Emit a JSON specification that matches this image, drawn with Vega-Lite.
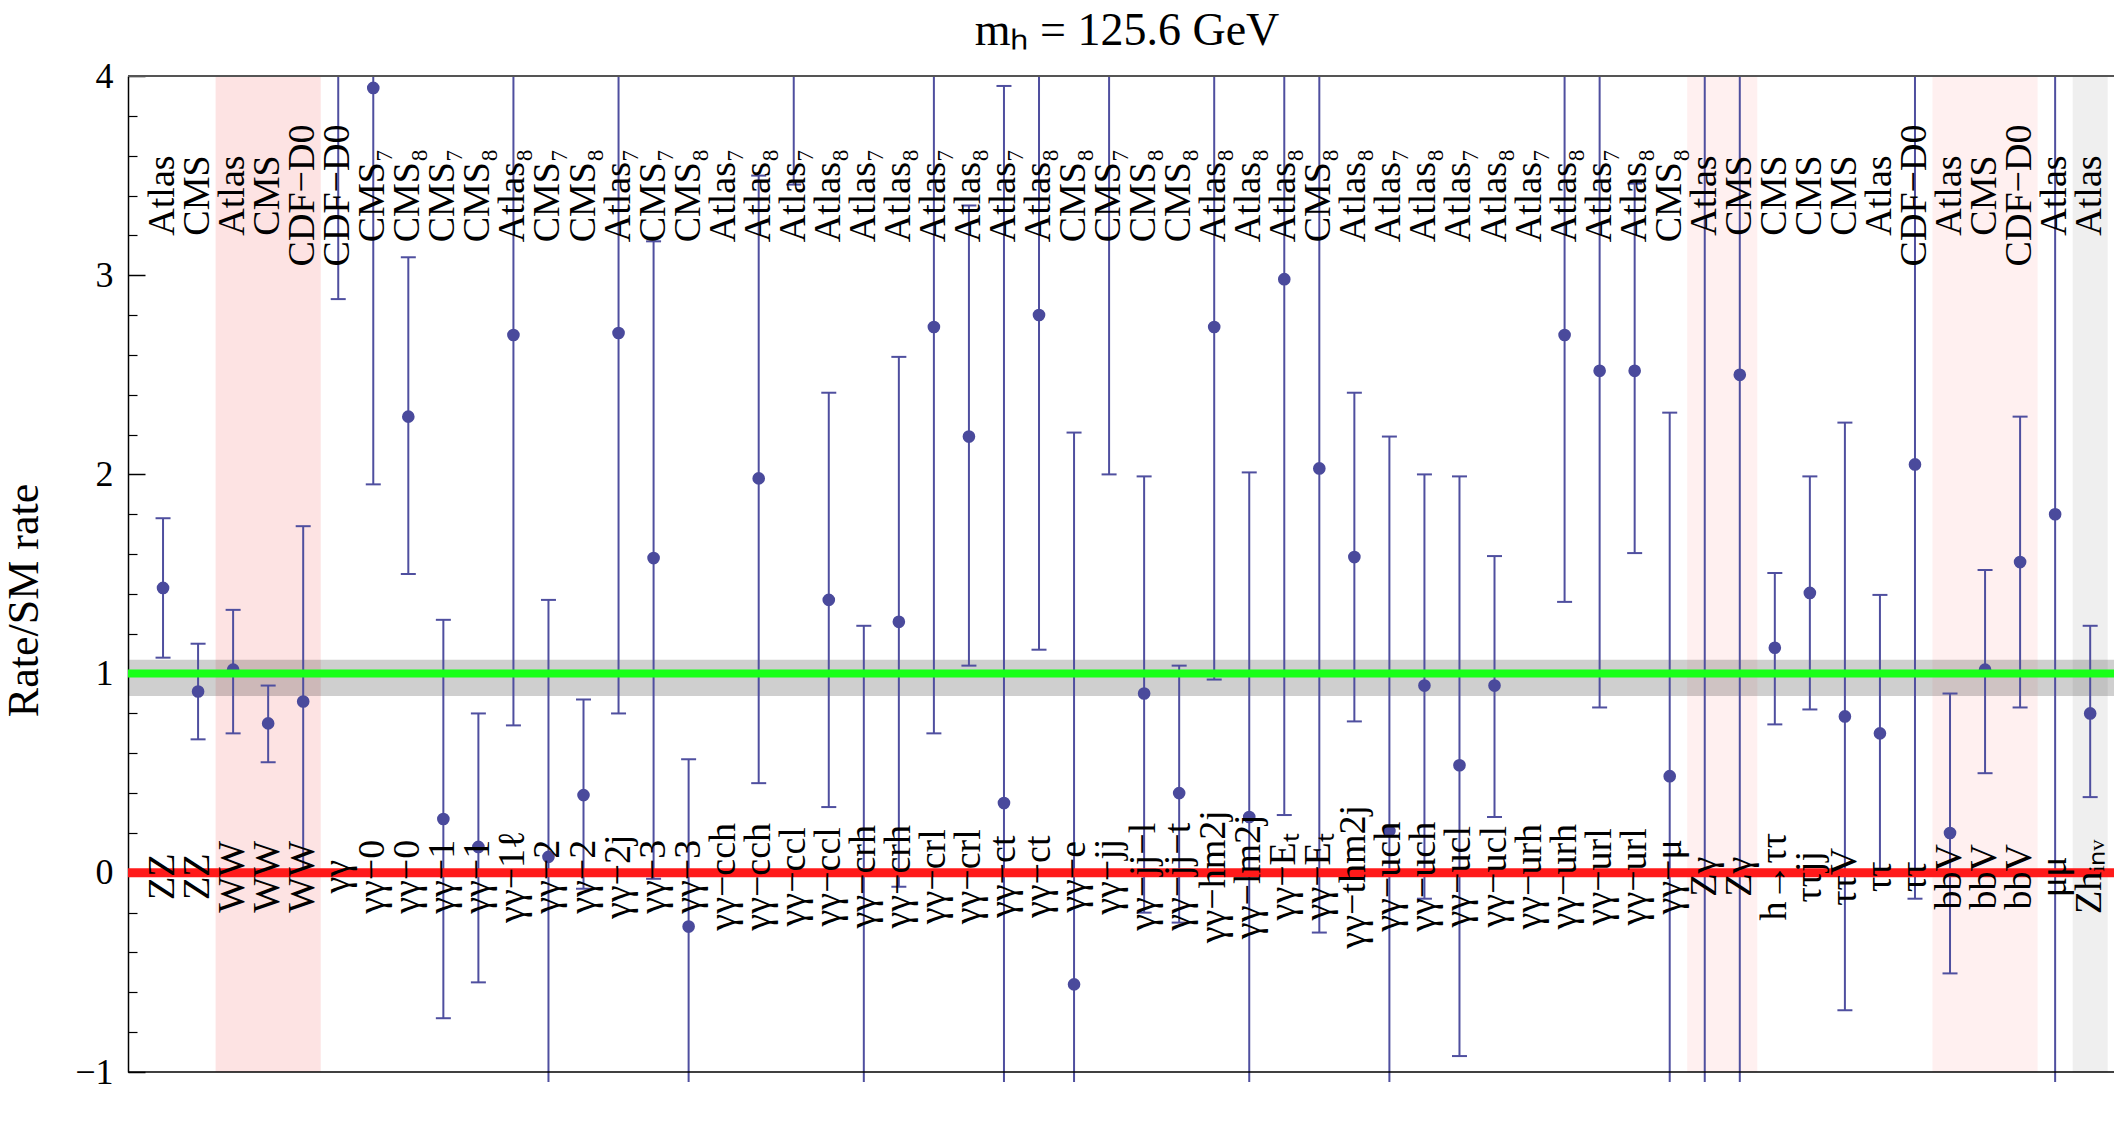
{
  "$schema": "https://vega.github.io/schema/vega-lite/v6.json",
  "width": 1986,
  "height": 996,
  "autosize": {"type": "none"},
  "padding": {"left": 128, "top": 76, "right": 0, "bottom": 61},
  "background": "white",
  "view": {"stroke": null},
  "config": {"font": "Liberation Serif"},
  "title": {"text": "mₕ = 125.6 GeV", "font": "Liberation Serif", "fontSize": 46, "fontWeight": "normal", "color": "black", "frame": "group", "offset": 22, "dy": 19, "dx": 6},
  "resolve": {"axis": {"y": "independent"}},
  "datasets": {
    "pts": [
      {"c": 1, "top": "Atlas", "bot": "ZZ", "v": 1.43, "lo": 1.08, "hi": 1.78},
      {"c": 2, "top": "CMS", "bot": "ZZ", "v": 0.91, "lo": 0.67, "hi": 1.15},
      {"c": 3, "top": "Atlas", "bot": "WW", "v": 1.02, "lo": 0.70, "hi": 1.32},
      {"c": 4, "top": "CMS", "bot": "WW", "v": 0.75, "lo": 0.555, "hi": 0.94},
      {"c": 5, "top": "CDF−D0", "bot": "WW", "v": 0.86, "lo": 0.0, "hi": 1.74},
      {"c": 6, "top": "CDF−D0", "bot": "γγ", "v": null, "lo": 2.88, "hi": 4},
      {"c": 7, "top": "CMS₇", "bot": "γγ−0", "v": 3.94, "lo": 1.95, "hi": 4},
      {"c": 8, "top": "CMS₈", "bot": "γγ−0", "v": 2.29, "lo": 1.50, "hi": 3.09},
      {"c": 9, "top": "CMS₇", "bot": "γγ−1", "v": 0.27, "lo": -0.73, "hi": 1.27},
      {"c": 10, "top": "CMS₈", "bot": "γγ−1", "v": 0.13, "lo": -0.55, "hi": 0.80},
      {"c": 11, "top": "Atlas₈", "bot": "γγ−1ℓ", "v": 2.70, "lo": 0.74, "hi": 4},
      {"c": 12, "top": "CMS₇", "bot": "γγ−2", "v": 0.08, "lo": -1.05, "hi": 1.37},
      {"c": 13, "top": "CMS₈", "bot": "γγ−2", "v": 0.39, "lo": -0.08, "hi": 0.87},
      {"c": 14, "top": "Atlas₇", "bot": "γγ−2j", "v": 2.71, "lo": 0.80, "hi": 4},
      {"c": 15, "top": "CMS₇", "bot": "γγ−3", "v": 1.58, "lo": -0.03, "hi": 3.17},
      {"c": 16, "top": "CMS₈", "bot": "γγ−3", "v": -0.27, "lo": -1.05, "hi": 0.57},
      {"c": 17, "top": "Atlas₇", "bot": "γγ−cch", "v": null, "lo": null, "hi": null},
      {"c": 18, "top": "Atlas₈", "bot": "γγ−cch", "v": 1.98, "lo": 0.45, "hi": 3.50},
      {"c": 19, "top": "Atlas₇", "bot": "γγ−ccl", "v": null, "lo": 3.455, "hi": 4},
      {"c": 20, "top": "Atlas₈", "bot": "γγ−ccl", "v": 1.37, "lo": 0.33, "hi": 2.41},
      {"c": 21, "top": "Atlas₇", "bot": "γγ−crh", "v": null, "lo": -1.05, "hi": 1.24},
      {"c": 22, "top": "Atlas₈", "bot": "γγ−crh", "v": 1.26, "lo": -0.07, "hi": 2.59},
      {"c": 23, "top": "Atlas₇", "bot": "γγ−crl", "v": 2.74, "lo": 0.70, "hi": 4},
      {"c": 24, "top": "Atlas₈", "bot": "γγ−crl", "v": 2.19, "lo": 1.04, "hi": 3.35},
      {"c": 25, "top": "Atlas₇", "bot": "γγ−ct", "v": 0.35, "lo": -1.05, "hi": 3.95},
      {"c": 26, "top": "Atlas₈", "bot": "γγ−ct", "v": 2.80, "lo": 1.12, "hi": 4},
      {"c": 27, "top": "CMS₈", "bot": "γγ−e", "v": -0.56, "lo": -1.05, "hi": 2.21},
      {"c": 28, "top": "CMS₇", "bot": "γγ−jj", "v": null, "lo": 2.0, "hi": 4},
      {"c": 29, "top": "CMS₈", "bot": "γγ−jj−l", "v": 0.90, "lo": -0.20, "hi": 1.99},
      {"c": 30, "top": "CMS₈", "bot": "γγ−jj−t", "v": 0.40, "lo": -0.25, "hi": 1.04},
      {"c": 31, "top": "Atlas₈", "bot": "γγ−hm2j", "v": 2.74, "lo": 0.97, "hi": 4},
      {"c": 32, "top": "Atlas₈", "bot": "γγ−lm2j", "v": 0.28, "lo": -1.05, "hi": 2.01},
      {"c": 33, "top": "Atlas₈", "bot": "γγ−Eₜ", "v": 2.98, "lo": 0.29, "hi": 4},
      {"c": 34, "top": "CMS₈", "bot": "γγ−Eₜ", "v": 2.03, "lo": -0.30, "hi": 4},
      {"c": 35, "top": "Atlas₈", "bot": "γγ−thm2j", "v": 1.585, "lo": 0.76, "hi": 2.41},
      {"c": 36, "top": "Atlas₇", "bot": "γγ−uch", "v": 0.21, "lo": -1.05, "hi": 2.19},
      {"c": 37, "top": "Atlas₈", "bot": "γγ−uch", "v": 0.94, "lo": -0.13, "hi": 2.00},
      {"c": 38, "top": "Atlas₇", "bot": "γγ−ucl", "v": 0.54, "lo": -0.92, "hi": 1.99},
      {"c": 39, "top": "Atlas₈", "bot": "γγ−ucl", "v": 0.94, "lo": 0.28, "hi": 1.59},
      {"c": 40, "top": "Atlas₇", "bot": "γγ−urh", "v": null, "lo": null, "hi": null},
      {"c": 41, "top": "Atlas₈", "bot": "γγ−urh", "v": 2.70, "lo": 1.36, "hi": 4},
      {"c": 42, "top": "Atlas₇", "bot": "γγ−url", "v": 2.52, "lo": 0.83, "hi": 4},
      {"c": 43, "top": "Atlas₈", "bot": "γγ−url", "v": 2.52, "lo": 1.605, "hi": 3.46},
      {"c": 44, "top": "CMS₈", "bot": "γγ−μ", "v": 0.485, "lo": -1.05, "hi": 2.31},
      {"c": 45, "top": "Atlas", "bot": "Zγ", "v": null, "lo": -1.05, "hi": 4},
      {"c": 46, "top": "CMS", "bot": "Zγ", "v": 2.50, "lo": -1.05, "hi": 4},
      {"c": 47, "top": "CMS", "bot": "h→ττ", "v": 1.13, "lo": 0.745, "hi": 1.505},
      {"c": 48, "top": "CMS", "bot": "ττjj", "v": 1.405, "lo": 0.82, "hi": 1.99},
      {"c": 49, "top": "CMS", "bot": "ττV", "v": 0.785, "lo": -0.69, "hi": 2.26},
      {"c": 50, "top": "Atlas", "bot": "ττ", "v": 0.70, "lo": 0.0, "hi": 1.395},
      {"c": 51, "top": "CDF−D0", "bot": "ττ", "v": 2.05, "lo": -0.13, "hi": 4},
      {"c": 52, "top": "Atlas", "bot": "bbV", "v": 0.20, "lo": -0.505, "hi": 0.90},
      {"c": 53, "top": "CMS", "bot": "bbV", "v": 1.02, "lo": 0.50, "hi": 1.52},
      {"c": 54, "top": "CDF−D0", "bot": "bbV", "v": 1.56, "lo": 0.83, "hi": 2.29},
      {"c": 55, "top": "Atlas", "bot": "μμ", "v": 1.80, "lo": -1.05, "hi": 4},
      {"c": 56, "top": "Atlas", "bot": "Zhᵢₙᵥ", "v": 0.80, "lo": 0.38, "hi": 1.24}
    ],
    "bands": [
      {"from": 2.5, "to": 5.5, "kind": "WW"},
      {"from": 44.5, "to": 46.5, "kind": "Zgamma"},
      {"from": 51.5, "to": 54.5, "kind": "bbV"},
      {"from": 55.5, "to": 56.5, "kind": "Zhinv"}
    ],
    "one": [{}]
  },
  "layer": [
    {
      "data": {"name": "bands"},
      "mark": {"type": "rect"},
      "encoding": {
        "x": {"field": "from", "type": "quantitative", "scale": {"domain": [0, 56.68], "nice": false, "zero": false}, "axis": null},
        "x2": {"field": "to"},
        "color": {"field": "kind", "type": "nominal", "scale": {"domain": ["WW", "Zgamma", "bbV", "Zhinv"], "range": ["#fde3e3", "#fff0f0", "#fff0f0", "#efefef"]}, "legend": null}
      }
    },
    {
      "data": {"name": "one"},
      "mark": {"type": "rect", "color": "black", "opacity": 0.19},
      "encoding": {
        "y": {"datum": 0.887, "type": "quantitative",
          "scale": {"domain": [-1, 4], "nice": false, "zero": false},
          "axis": {
            "orient": "left",
            "values": [-1, 0, 1, 2, 3, 4],
            "format": "d",
            "tickSize": -17,
            "tickColor": "black",
            "tickWidth": 1.5,
            "domainColor": "black",
            "domainWidth": 1.5,
            "grid": false,
            "labelFont": "Liberation Serif",
            "labelFontSize": 36,
            "labelColor": "black",
            "labelPadding": 32,
            "labelOverlap": false,
            "labelFlush": false,
            "labelBound": false,
            "title": "Rate/SM rate",
            "titleFont": "Liberation Serif",
            "titleFontSize": 44,
            "titleFontWeight": "normal",
            "titleColor": "black",
            "titleBaseline": "middle",
            "titleX": -104,
            "titleY": 524
          }
        },
        "y2": {"datum": 1.07}
      }
    },
    {
      "data": {"name": "pts"},
      "mark": {"type": "rule", "color": "#4f4f9f", "strokeWidth": 2},
      "encoding": {
        "x": {"field": "c", "type": "quantitative"},
        "y": {"field": "lo", "type": "quantitative", "axis": null},
        "y2": {"field": "hi"}
      }
    },
    {
      "data": {"name": "pts"},
      "transform": [{"filter": "isValid(datum.hi) && datum.hi < 3.999"}],
      "mark": {"type": "tick", "orient": "horizontal", "color": "#4f4f9f", "size": 15, "thickness": 2, "opacity": 1},
      "encoding": {
        "x": {"field": "c", "type": "quantitative"},
        "y": {"field": "hi", "type": "quantitative", "axis": null}
      }
    },
    {
      "data": {"name": "pts"},
      "transform": [{"filter": "isValid(datum.lo) && datum.lo > -1"}],
      "mark": {"type": "tick", "orient": "horizontal", "color": "#4f4f9f", "size": 15, "thickness": 2, "opacity": 1},
      "encoding": {
        "x": {"field": "c", "type": "quantitative"},
        "y": {"field": "lo", "type": "quantitative", "axis": null}
      }
    },
    {
      "data": {"name": "pts"},
      "mark": {"type": "circle", "color": "#4a4a9c", "size": 160, "opacity": 1},
      "encoding": {
        "x": {"field": "c", "type": "quantitative"},
        "y": {"field": "v", "type": "quantitative", "axis": null}
      }
    },
    {
      "data": {"name": "one"},
      "mark": {"type": "rule", "color": "#19ff19", "strokeWidth": 8},
      "encoding": {"y": {"datum": 1, "type": "quantitative",
        "axis": {
          "orient": "left",
          "values": [-0.8, -0.6, -0.4, -0.2, 0.2, 0.4, 0.6, 0.8, 1.2, 1.4, 1.6, 1.8, 2.2, 2.4, 2.6, 2.8, 3.2, 3.4, 3.6, 3.8],
          "labels": false,
          "domain": false,
          "grid": false,
          "tickSize": -9,
          "tickColor": "black",
          "tickWidth": 1.2,
          "title": null
        }}}
    },
    {
      "data": {"name": "one"},
      "mark": {"type": "rule", "color": "#ff1a1a", "strokeWidth": 9},
      "encoding": {"y": {"datum": 0, "type": "quantitative", "axis": null}}
    },
    {
      "data": {"name": "one"},
      "mark": {"type": "rule", "color": "#555555", "strokeWidth": 2},
      "encoding": {"y": {"datum": 4, "type": "quantitative", "axis": null}}
    },
    {
      "data": {"name": "one"},
      "mark": {"type": "rule", "color": "black", "strokeWidth": 1.5},
      "encoding": {"y": {"datum": -1, "type": "quantitative", "axis": null}}
    },
    {
      "data": {"name": "pts"},
      "mark": {"type": "text", "angle": 270, "align": "center", "baseline": "middle", "font": "Liberation Serif", "fontSize": 38, "color": "black"},
      "encoding": {
        "x": {"field": "c", "type": "quantitative"},
        "y": {"datum": 3.4, "type": "quantitative", "axis": null},
        "text": {"field": "top"}
      }
    },
    {
      "data": {"name": "pts"},
      "mark": {"type": "text", "angle": 270, "align": "center", "baseline": "middle", "font": "Liberation Serif", "fontSize": 38, "color": "black"},
      "encoding": {
        "x": {"field": "c", "type": "quantitative"},
        "y": {"datum": -0.02, "type": "quantitative", "axis": null},
        "text": {"field": "bot"}
      }
    }
  ]
}
